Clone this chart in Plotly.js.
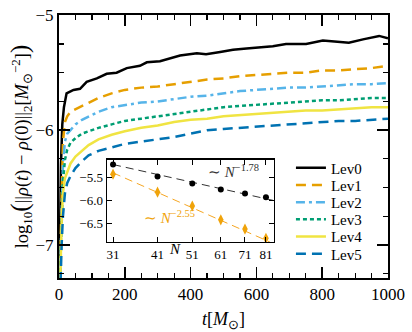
<!DOCTYPE html>
<html>
<head>
<meta charset="utf-8">
<script src="https://cdn.plot.ly/plotly-3.0.1.min.js"></script>
<style>
  html, body { margin: 0; padding: 0; background: #fff; }
  #chart { width: 412px; height: 332px; }
</style>
</head>
<body>
<div id="chart"></div>
<script>
// Main panel: log10 of the density norm vs time, one curve per resolution level
const levNames = ['Lev0', 'Lev1', 'Lev2', 'Lev3', 'Lev4', 'Lev5'];

// Lev0 is sampled more finely because it wiggles
const tLev0 = [0, 3, 6, 10, 15, 23, 44, 64, 84, 115, 145, 175, 206, 246, 267, 307, 347, 368, 419,
  447, 490, 529, 570, 608, 650, 690, 751, 802, 840, 881, 924, 973, 1000];
const lev0 = [-7.6, -6.9, -6.3, -5.95, -5.8, -5.68, -5.65, -5.64, -5.58, -5.55, -5.51, -5.5, -5.46, -5.44, -5.41, -5.4, -5.37, -5.35, -5.33,
  -5.34, -5.32, -5.3, -5.29, -5.28, -5.27, -5.25, -5.25, -5.22, -5.23, -5.24, -5.21, -5.18, -5.2];

const t = [0, 4, 8, 12, 18, 25, 35, 50, 70, 90, 120, 160, 200, 250, 300, 350, 400, 450, 500,
  550, 600, 650, 700, 750, 800, 850, 900, 950, 1000];
const lev1 = [-7.6, -7.0, -6.4, -6.1, -5.93, -5.88, -5.84, -5.82, -5.79, -5.76, -5.72, -5.68, -5.65, -5.63, -5.62, -5.6, -5.58, -5.56, -5.55,
  -5.53, -5.52, -5.51, -5.5, -5.5, -5.48, -5.48, -5.47, -5.46, -5.44];
const lev2 = [-7.6, -7.1, -6.6, -6.3, -6.1, -6.03, -6.0, -5.95, -5.91, -5.88, -5.84, -5.8, -5.78, -5.76, -5.75, -5.73, -5.71, -5.7, -5.68,
  -5.66, -5.65, -5.64, -5.63, -5.63, -5.62, -5.61, -5.6, -5.6, -5.59];
const lev3 = [-7.6, -7.2, -6.7, -6.45, -6.26, -6.17, -6.11, -6.07, -6.03, -6.01, -5.98, -5.95, -5.92, -5.9, -5.88, -5.86, -5.84, -5.82, -5.8,
  -5.79, -5.78, -5.77, -5.76, -5.75, -5.74, -5.74, -5.73, -5.72, -5.72];
const lev4 = [-7.6, -7.3, -6.8, -6.55, -6.42, -6.36, -6.29, -6.23, -6.18, -6.13, -6.08, -6.04, -6.01, -5.98, -5.96, -5.93, -5.91, -5.9, -5.88,
  -5.87, -5.86, -5.85, -5.84, -5.83, -5.83, -5.82, -5.81, -5.8, -5.8];
const lev5 = [-7.6, -7.4, -7.0, -6.75, -6.55, -6.46, -6.4, -6.33, -6.27, -6.22, -6.18, -6.15, -6.12, -6.1, -6.08, -6.06, -6.03, -6.0, -5.99,
  -5.98, -5.97, -5.96, -5.95, -5.94, -5.93, -5.92, -5.92, -5.91, -5.9];

// Inset: convergence with grid size N
const nPts = [31, 41, 51, 61, 71, 81];
const nTickText = ['31', '41', '51', '61', '71', '81'];
const convBlack = [-5.22, -5.48, -5.63, -5.76, -5.85, -5.93];
const convOrange = [-5.43, -5.82, -6.12, -6.42, -6.62, -6.82];
const fitBlackN = [31, 85];
const fitBlack = [-5.22, -6.0];
const fitOrangeN = [31, 83];
const fitOrange = [-5.4, -6.9];

const colors = ['#000000', '#E69F00', '#56B4E9', '#009E73', '#F0E442', '#0072B2'];
const dashes = ['solid', '10px,6px', '9px,4px,3px,4px', '4px,3px', 'solid', '10px,6px'];
const series = [lev0, lev1, lev2, lev3, lev4, lev5];

const FONT = 'Liberation Serif, Times New Roman, serif';

// one legend per trace so the rows can be packed as tightly as the original
const legendIds = ['legend', 'legend2', 'legend3', 'legend4', 'legend5', 'legend6'];

const data = series.map((y, i) => ({
  x: i === 0 ? tLev0 : t,
  y: y,
  type: 'scatter',
  mode: 'lines',
  name: levNames[i],
  legend: legendIds[i],
  line: { color: colors[i], width: 2.5, dash: dashes[i] },
  xaxis: 'x',
  yaxis: 'y',
}));

// inset fits first so markers sit on top
data.push({
  x: fitBlackN, y: fitBlack, type: 'scatter', mode: 'lines', showlegend: false,
  line: { color: '#333333', width: 1, dash: '8px,5px' }, xaxis: 'x2', yaxis: 'y2',
});
data.push({
  x: fitOrangeN, y: fitOrange, type: 'scatter', mode: 'lines', showlegend: false,
  line: { color: '#F5A623', width: 1, dash: '8px,5px' }, xaxis: 'x2', yaxis: 'y2',
});
data.push({
  x: nPts, y: convBlack, type: 'scatter', mode: 'markers', showlegend: false,
  marker: { color: '#000000', size: 6, symbol: 'circle' }, xaxis: 'x2', yaxis: 'y2',
});
data.push({
  x: nPts, y: convOrange, type: 'scatter', mode: 'markers', showlegend: false,
  marker: { color: '#F0A30A', size: 8, symbol: 'diamond-tall' }, xaxis: 'x2', yaxis: 'y2',
});

const layout = {
  width: 412,
  height: 332,
  margin: { l: 59, r: 24, t: 15, b: 54 },
  paper_bgcolor: '#ffffff',
  plot_bgcolor: '#ffffff',
  font: { family: FONT, color: '#000000' },
  showlegend: true,
  xaxis: {
    domain: [0, 1],
    range: [0, 1000],
    tick0: 0, dtick: 200,
    ticks: 'inside', ticklen: 11, tickwidth: 1.5, tickcolor: '#000',
    minor: { dtick: 50, ticks: 'inside', ticklen: 5, tickwidth: 1.2, tickcolor: '#000' },
    showline: true, linewidth: 2, linecolor: '#000', mirror: 'ticks',
    showgrid: false, zeroline: false,
    tickfont: { family: FONT, size: 17 },
    title: { text: '<i>t</i>[<i>M</i><sub>⊙</sub>]', font: { family: FONT, size: 18 }, standoff: 10 },
  },
  yaxis: {
    domain: [0, 1],
    range: [-7.287, -4.998],
    tick0: -5, dtick: 1,
    ticks: 'inside', ticklen: 11, tickwidth: 1.5, tickcolor: '#000',
    minor: { dtick: 0.25, ticks: 'inside', ticklen: 5, tickwidth: 1.2, tickcolor: '#000' },
    showline: true, linewidth: 2, linecolor: '#000', mirror: 'ticks',
    showgrid: false, zeroline: false,
    tickfont: { family: FONT, size: 17 },
    title: {
      text: 'log<sub>10</sub><span style="font-size:25px">(</span>||<i>ρ</i>(<i>t</i>) − <i>ρ</i>(0)||<sub>2</sub>[<i>M</i><sub>⊙</sub><sup>−2</sup>]<span style="font-size:25px">)</span>',
      font: { family: FONT, size: 18.5 }, standoff: 2,
    },
  },
  xaxis2: {
    domain: [0.146, 0.653],
    anchor: 'y2',
    type: 'log',
    range: [1.475, 1.93],
    tickvals: nPts, ticktext: nTickText,
    ticks: 'inside', ticklen: 5, tickwidth: 1, tickcolor: '#000',
    showline: true, linewidth: 1.5, linecolor: '#000', mirror: 'ticks',
    showgrid: false, zeroline: false,
    tickfont: { family: FONT, size: 13 },
  },
  yaxis2: {
    domain: [0.137, 0.449],
    anchor: 'x2',
    range: [-6.9, -5.12],
    tickvals: [-5.5, -6.0, -6.5], ticktext: ['−5.5', '−6.0', '−6.5'],
    ticks: 'inside', ticklen: 5, tickwidth: 1, tickcolor: '#000',
    showline: true, linewidth: 1.5, linecolor: '#000', mirror: 'ticks',
    showgrid: false, zeroline: false,
    tickfont: { family: FONT, size: 13 },
  },
  shapes: [
    {
      type: 'rect', xref: 'x2 domain', yref: 'y2 domain', x0: 0, x1: 1, y0: 0, y1: 1,
      fillcolor: '#ffffff', line: { width: 0 }, layer: 'below',
    },
  ],
  annotations: [
    {
      xref: 'paper', yref: 'paper', x: 0.447, y: 0.405, xanchor: 'left', showarrow: false,
      text: '∼ <i>N</i><sup>−1.78</sup>', font: { family: FONT, size: 15, color: '#333333' },
    },
    {
      xref: 'paper', yref: 'paper', x: 0.252, y: 0.19, xanchor: 'left', showarrow: false,
      text: '∼ <i>N</i><sup>−2.55</sup>', font: { family: FONT, size: 15, color: '#F0A30A' },
    },
    {
      xref: 'paper', yref: 'paper', x: 0.353, y: 0.072, showarrow: false,
      text: '<i>N</i>', font: { family: FONT, size: 15 },
    },
  ],
};

// stack the six single-entry legends 17 px apart
const legendRowY = [0.4183, 0.3529, 0.2875, 0.2221, 0.1567, 0.0913];
legendIds.forEach((id, i) => {
  layout[id] = {
    x: 0.705, y: legendRowY[i], xanchor: 'left', yanchor: 'middle',
    bgcolor: 'rgba(0,0,0,0)', font: { family: FONT, size: 15 }, itemwidth: 30,
  };
});

Plotly.newPlot('chart', data, layout, { staticPlot: true });
</script>
</body>
</html>
